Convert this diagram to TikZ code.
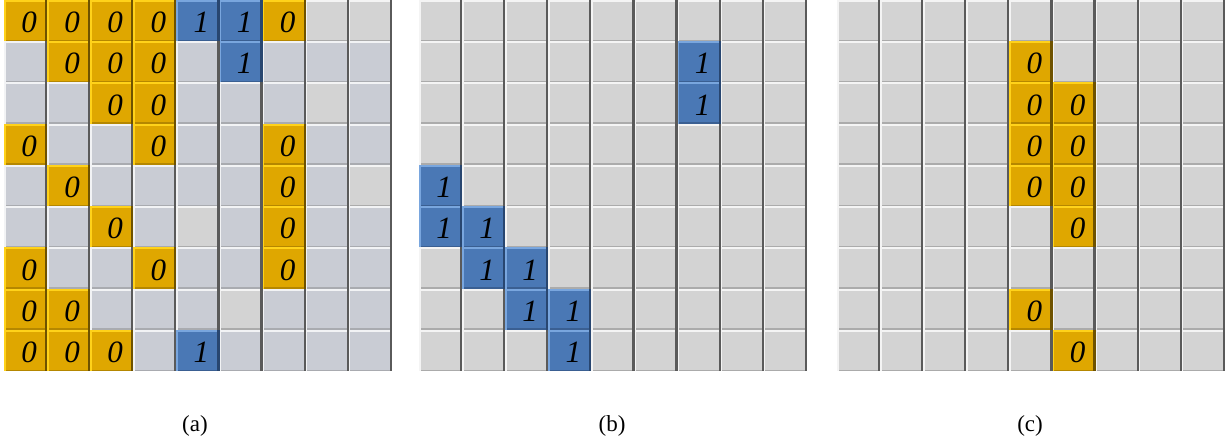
\documentclass[tikz,border=0pt]{standalone}
\usepackage{fontspec}
\setmainfont{Liberation Serif}
% colours: f fill, h highlight, s right shadow, b bottom
\definecolor{gf}{HTML}{C9CCD4}\definecolor{gh}{HTML}{F2F3F5}\definecolor{gs}{HTML}{5A5A5A}\definecolor{gb}{HTML}{A9ABB0}
\definecolor{nf}{HTML}{D3D3D3}\definecolor{nh}{HTML}{F4F4F4}\definecolor{ns}{HTML}{5A5A5A}\definecolor{nb}{HTML}{ABABAB}
\definecolor{of}{HTML}{DFA700}\definecolor{oh}{HTML}{FFD21A}\definecolor{os}{HTML}{6E5200}\definecolor{ob}{HTML}{B58700}
\definecolor{bf}{HTML}{4A78B5}\definecolor{bh}{HTML}{79A6DE}\definecolor{bs}{HTML}{284670}\definecolor{bb}{HTML}{3A5F92}
\def\txtg{}\def\txtn{}\def\txto{0}\def\txtb{1}
\newcommand{\drawcell}[4]{%
  \pgfmathsetmacro\xa{#1+#2*43.1}%
  \pgfmathsetmacro\ya{#3*41.25}%
  \fill[#4f] (\xa,\ya) rectangle ++(43.1,41.25);
  \fill[#4b] (\xa,\ya+41.25) rectangle ++(43.1,-1.6);
  \fill[#4h] (\xa,\ya) rectangle ++(43.1,2);
  \fill[#4h] (\xa,\ya) rectangle ++(1.5,41.25);
  \fill[#4s] (\xa+43.1,\ya) rectangle ++(-2.2,41.25);
  \node[digit] at (\xa+25,\ya+22.5) {\csname txt#4\endcsname};
}
\tikzset{digit/.style={inner sep=0pt,font=\fontsize{31}{34}\selectfont\itshape},
  caption/.style={inner sep=0pt,font=\fontsize{23}{26}\selectfont}}
\begin{document}
\begin{tikzpicture}[x=1pt,y=-1pt]
\useasboundingbox (0,0) rectangle (1228,443);
\fill[white] (0,0) rectangle (1228,443);
% (a)
\foreach \row [count=\r from 0] in {{o,o,o,o,b,b,o,n,n},{g,o,o,o,g,b,g,g,g},{g,g,o,o,g,g,g,n,g},{o,g,g,o,g,g,o,g,g},{g,o,g,g,g,g,o,g,n},{g,g,o,g,n,g,o,g,g},{o,g,g,o,g,g,o,g,g},{o,o,g,g,g,n,g,g,g},{o,o,o,g,b,g,g,g,g}}{
  \foreach \code [count=\c from 0] in \row {\drawcell{4}{\c}{\r}{\code}}
}
% (b)
\foreach \row [count=\r from 0] in {{n,n,n,n,n,n,n,n,n},{n,n,n,n,n,n,b,n,n},{n,n,n,n,n,n,b,n,n},{n,n,n,n,n,n,n,n,n},{b,n,n,n,n,n,n,n,n},{b,b,n,n,n,n,n,n,n},{n,b,b,n,n,n,n,n,n},{n,n,b,b,n,n,n,n,n},{n,n,n,b,n,n,n,n,n}}{
  \foreach \code [count=\c from 0] in \row {\drawcell{419}{\c}{\r}{\code}}
}
% (c)
\foreach \row [count=\r from 0] in {{n,n,n,n,n,n,n,n,n},{n,n,n,n,o,n,n,n,n},{n,n,n,n,o,o,n,n,n},{n,n,n,n,o,o,n,n,n},{n,n,n,n,o,o,n,n,n},{n,n,n,n,n,o,n,n,n},{n,n,n,n,n,n,n,n,n},{n,n,n,n,o,n,n,n,n},{n,n,n,n,n,o,n,n,n}}{
  \foreach \code [count=\c from 0] in \row {\drawcell{837}{\c}{\r}{\code}}
}
\node[caption] (capa) at (195,426) {(a)};
\node[caption] (capb) at (612,426) {(b)};
\node[caption] (capc) at (1030,426) {(c)};
\end{tikzpicture}
\end{document}
